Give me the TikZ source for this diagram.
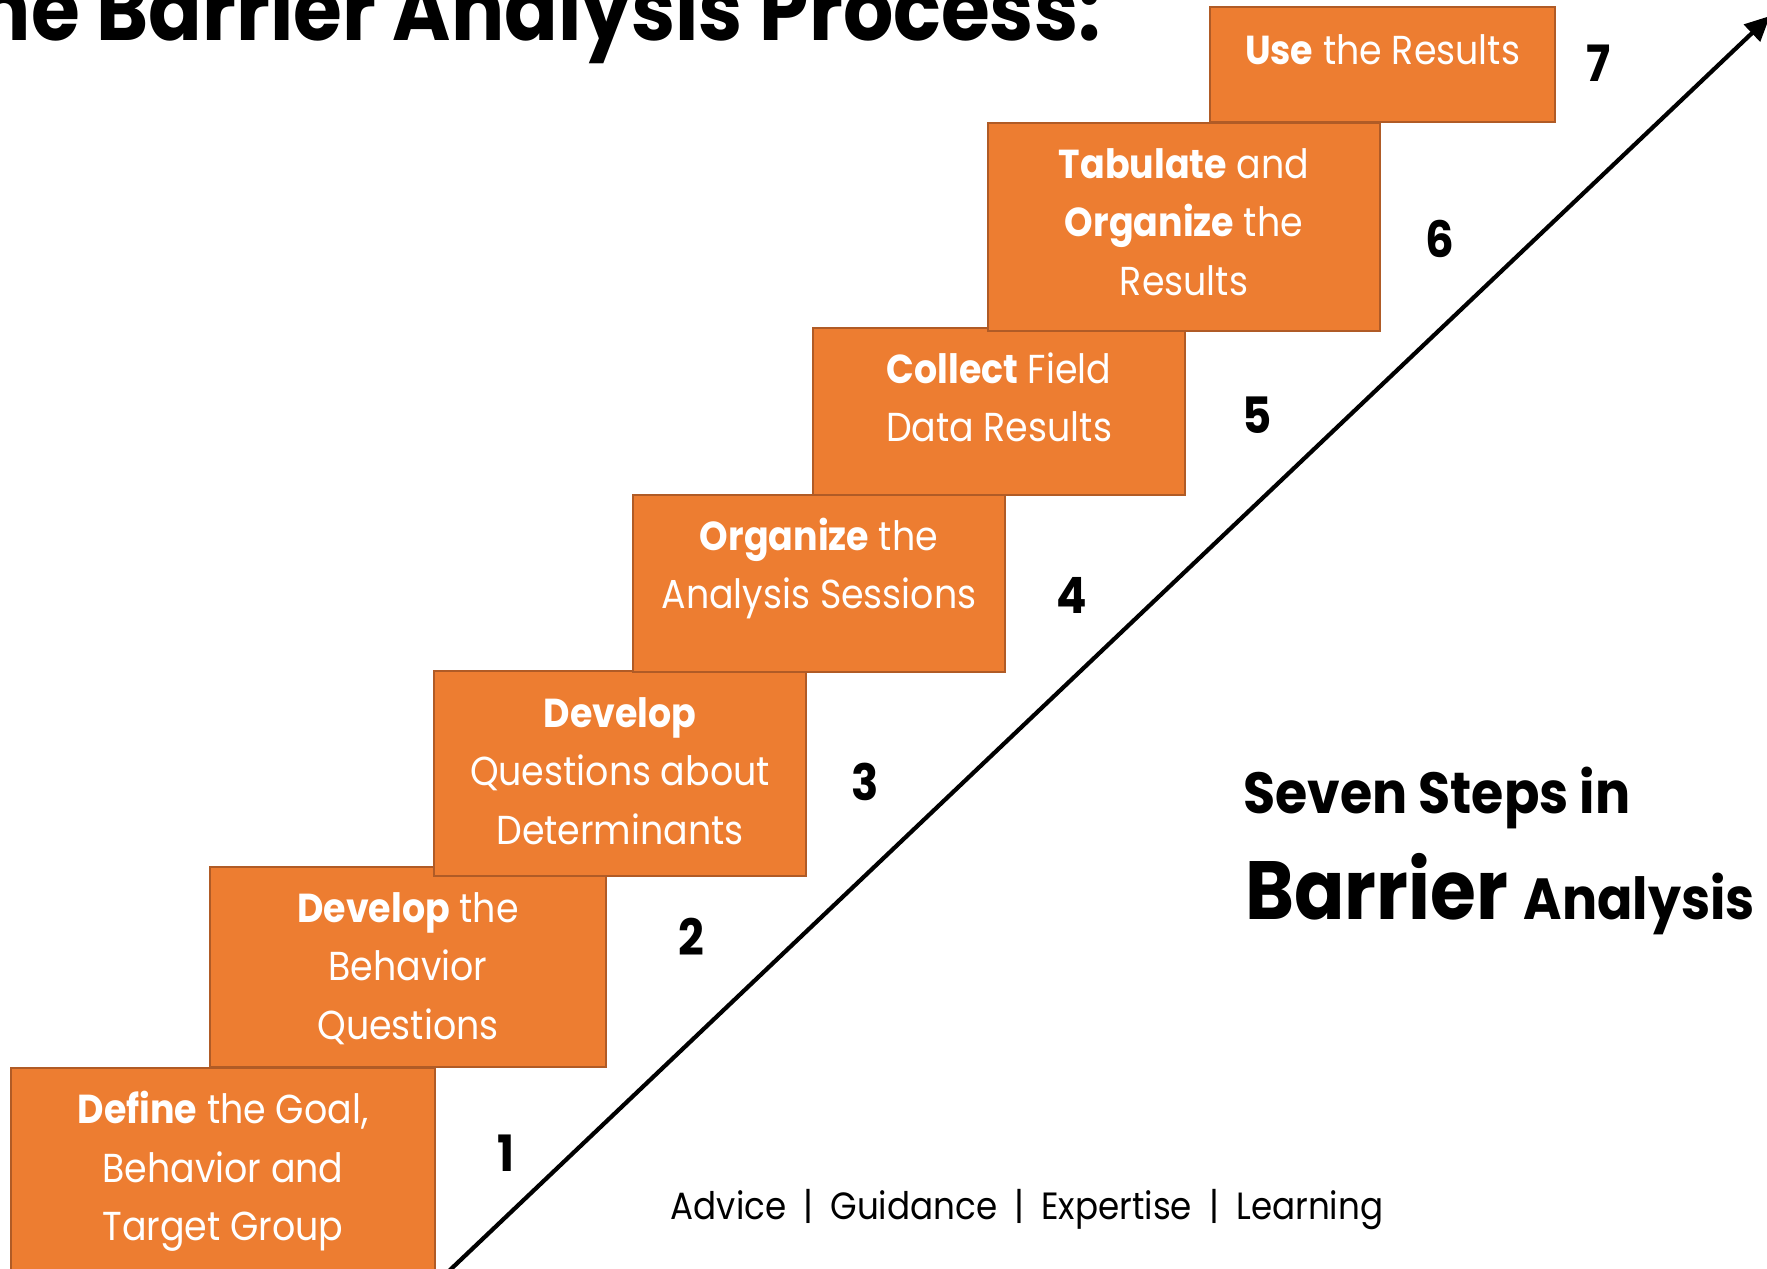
\documentclass[tikz,border=0pt]{standalone}
\usepackage{fontspec}
\setmainfont{Poppins}[FakeStretch=0.9]
\usetikzlibrary{arrows.meta}

\definecolor{steporange}{HTML}{ED7D31}
\definecolor{stepedge}{HTML}{B05B26}
\newcommand\sepbar{\hspace{0.45em}|\hspace{0.45em}}

\begin{document}
\begin{tikzpicture}[
  >={Triangle[length=5mm,width=4.6mm]},
  every node/.style={inner sep=0pt},
  stepbox/.style={draw=stepedge, fill=steporange, line width=1.3pt},
  steptext/.style={text=white, align=center, font=\fontsize{23}{33.3}\selectfont},
  stepnum/.style={font=\fontsize{28.5}{30}\selectfont\bfseries}
]
  \useasboundingbox (0,0) rectangle (35.34,25.38);
  \clip (0,0) rectangle (35.34,25.38);

  \node[font=\fontsize{50}{50}\selectfont\bfseries, anchor=base east] (title) at (22.02,24.57) {The Barrier Analysis Process:};

  \node[stepbox, minimum width=8.48cm, minimum height=4.24cm] (b1) at (4.46,1.90) {};
  \node[steptext] (t1) at ([yshift=0.5mm]b1.center) {\textbf{Define} the Goal,\\Behavior and\\Target Group};
  \node[stepbox, minimum width=7.92cm, minimum height=4.00cm] (b2) at (8.16,6.04) {};
  \node[steptext] (t2) at ([yshift=-0.3mm]b2.center) {\textbf{Develop} the\\Behavior\\Questions};
  \node[stepbox, minimum width=7.44cm, minimum height=4.10cm] (b3) at (12.40,9.91) {};
  \node[steptext] (t3) at ([yshift=0.5mm]b3.center) {\textbf{Develop}\\Questions about\\Determinants};
  \node[stepbox, minimum width=7.44cm, minimum height=3.54cm] (b4) at (16.38,13.71) {};
  \node[steptext] (t4) at ([yshift=3mm]b4.center) {\textbf{Organize} the\\Analysis Sessions};
  \node[stepbox, minimum width=7.44cm, minimum height=3.34cm] (b5) at (19.98,17.15) {};
  \node[steptext] (t5) at ([yshift=2.8mm]b5.center) {\textbf{Collect} Field\\Data Results};
  \node[stepbox, minimum width=7.84cm, minimum height=4.16cm] (b6) at (23.68,20.84) {};
  \node[steptext] (t6) at ([yshift=1mm]b6.center) {\textbf{Tabulate} and\\\textbf{Organize} the\\Results};
  \node[stepbox, minimum width=6.90cm, minimum height=2.30cm] (b7) at (27.65,24.09) {};
  \node[steptext] (t7) at ([yshift=3mm]b7.center) {\textbf{Use} the Results};

  \node[stepnum] (n1) at (10.12,2.32) {1};
  \node[stepnum] (n2) at (13.82,6.64) {2};
  \node[stepnum] (n3) at (17.30,9.74) {3};
  \node[stepnum] (n4) at (21.44,13.48) {4};
  \node[stepnum] (n5) at (25.14,17.08) {5};
  \node[stepnum] (n6) at (28.80,20.60) {6};
  \node[stepnum] (n7) at (31.98,24.12) {7};

  \coordinate (lo) at (8.80,-0.21);
  \coordinate (hi) at (35.40,25.06);
  \draw[->, line width=2.4pt] (lo) -- (hi);

  \node[anchor=base west, font=\fontsize{33}{33}\selectfont\bfseries] (seven) at (24.86,9.10) {Seven Steps in};
  \node[anchor=base west, font=\bfseries] (barrier) at (24.90,6.98) {\fontsize{47}{47}\selectfont Barrier \fontsize{33}{33}\selectfont Analysis};

  \node[anchor=base, font=\fontsize{21.6}{22}\selectfont] (footer) at (20.54,0.98) {Advice\sepbar Guidance\sepbar Expertise\sepbar Learning};
\end{tikzpicture}
\end{document}
